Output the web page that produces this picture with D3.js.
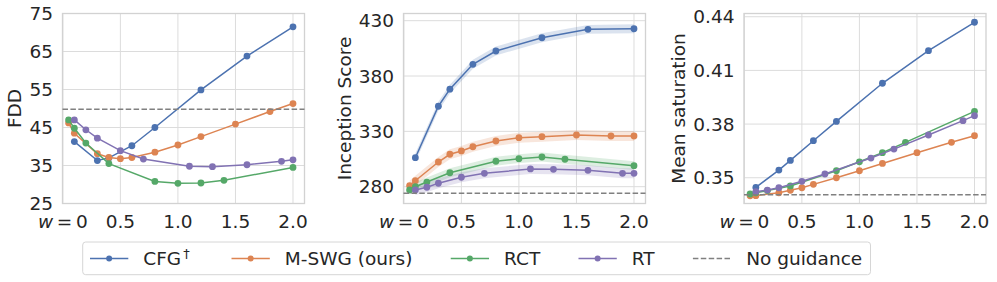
<!DOCTYPE html>
<html>
<head>
<meta charset="utf-8">
<script src="https://d3js.org/d3.v7.min.js"></script>
<style>
  body { margin: 0; background: #fff; }
  text { font-family: "DejaVu Sans", sans-serif; fill: #262626; }
</style>
</head>
<body>
<script>
// guidance strength per method
var wCFG  = [0.1, 0.3, 0.4, 0.6, 0.8, 1.2, 1.6, 2.0];
var wMSWG = [0.05, 0.1, 0.3, 0.4, 0.5, 0.6, 0.8, 1.0, 1.2, 1.5, 1.8, 2.0];
var wRCT  = [0.05, 0.1, 0.2, 0.4, 0.8, 1.0, 1.2, 1.4, 2.0];
var wRT   = [0.1, 0.2, 0.3, 0.5, 0.7, 1.1, 1.3, 1.6, 1.9, 2.0];

// FDD
var fddCFG  = [41.3, 36.3, 37.0, 40.2, 45.0, 54.9, 63.8, 71.5];
var fddMSWG = [46.2, 43.5, 38.1, 37.1, 36.8, 37.1, 38.5, 40.4, 42.6, 45.9, 49.2, 51.3];
var fddRCT  = [47.0, 44.8, 40.9, 35.5, 30.8, 30.3, 30.4, 31.1, 34.5];
var fddRT   = [47.0, 44.4, 42.2, 38.9, 36.7, 34.8, 34.7, 35.2, 36.1, 36.5];

// Inception Score
var isCFG  = [306.2, 352.7, 368.1, 390.6, 402.6, 414.6, 422.2, 422.7];
var isMSWG = [280.9, 285.4, 302.3, 309.3, 312.3, 316.1, 321.3, 324.3, 325.2, 326.7, 325.8, 325.8];
var isRCT  = [277.0, 280.0, 284.2, 292.6, 303.0, 305.3, 306.8, 304.8, 299.0];
var isRT   = [277.0, 279.5, 283.1, 288.5, 292.1, 296.0, 295.7, 294.8, 292.1, 292.1];
var isBand = [4, 4.5, 4, 4.5];   // half width of the shaded interval

// Mean saturation
var satCFG  = [0.3446, 0.3543, 0.3597, 0.3707, 0.3815, 0.4028, 0.4210, 0.4369];
var satMSWG = [0.3399, 0.3400, 0.3416, 0.3430, 0.3444, 0.3463, 0.3500, 0.3539, 0.3580, 0.3640, 0.3698, 0.3735];
var satRCT  = [0.3409, 0.3416, 0.3428, 0.3454, 0.3539, 0.3589, 0.3640, 0.3698, 0.3871];
var satRT   = [0.3422, 0.3431, 0.3444, 0.3480, 0.3521, 0.3610, 0.3660, 0.3739, 0.3819, 0.3847];

var noGuidance = [49.8, 274, 0.3405];

var methods = ["CFG", "M-SWG (ours)", "RCT", "RT"];
var colors = ["#4c72b0", "#dd8452", "#55a868", "#8172b3"];
var xTicks = [0, 0.5, 1.0, 1.5, 2.0];

var W = 997, H = 282;
var fs = 18.5;
var yTop = 13.5, yBot = 203.5, pw = 242;

var panels = [
  { left: 62.5, label: "FDD", domain: [25, 75], ticks: [25, 35, 45, 55, 65, 75], fmt: d3.format("d"),
    ys: [fddCFG, fddMSWG, fddRCT, fddRT], band: null },
  { left: 403.5, label: "Inception Score", domain: [264.8, 436.5], ticks: [280, 330, 380, 430], fmt: d3.format("d"),
    ys: [isCFG, isMSWG, isRCT, isRT], band: isBand },
  { left: 744, label: "Mean saturation", domain: [0.3356, 0.4418], ticks: [0.35, 0.38, 0.41, 0.44], fmt: d3.format(".2f"),
    ys: [satCFG, satMSWG, satRCT, satRT], band: null }
];
var ws = [wCFG, wMSWG, wRCT, wRT];

var svg = d3.select("body").append("svg")
  .attr("width", W).attr("height", H);

panels.forEach(function (p, pi) {
  var x = d3.scaleLinear().domain([-0.003, 2.1]).range([p.left, p.left + pw]);
  var y = d3.scaleLinear().domain(p.domain).range([yBot, yTop]);
  var g = svg.append("g");

  // grid
  g.selectAll("line.gx").data(xTicks).enter().append("line")
    .attr("x1", d => x(d)).attr("x2", d => x(d))
    .attr("y1", yTop).attr("y2", yBot)
    .attr("stroke", "#dcdcdc").attr("stroke-width", 1);
  g.selectAll("line.gy").data(p.ticks).enter().append("line")
    .attr("x1", p.left).attr("x2", p.left + pw)
    .attr("y1", d => y(d)).attr("y2", d => y(d))
    .attr("stroke", "#dcdcdc").attr("stroke-width", 1);

  // frame
  g.append("rect")
    .attr("x", p.left).attr("y", yTop).attr("width", pw).attr("height", yBot - yTop)
    .attr("fill", "none").attr("stroke", "#d2d2d2").attr("stroke-width", 1.3);

  // shaded intervals
  if (p.band) {
    p.ys.forEach(function (ys, si) {
      var pts = ws[si].map((w, i) => [w, ys[i]]);
      g.append("path")
        .attr("d", d3.area().x(d => x(d[0])).y0(d => y(d[1] - p.band[si])).y1(d => y(d[1] + p.band[si]))(pts))
        .attr("fill", colors[si]).attr("opacity", 0.2);
    });
  }

  // lines + markers
  p.ys.forEach(function (ys, si) {
    var pts = ws[si].map((w, i) => [w, ys[i]]);
    g.append("path")
      .attr("d", d3.line().x(d => x(d[0])).y(d => y(d[1]))(pts))
      .attr("fill", "none").attr("stroke", colors[si]).attr("stroke-width", 1.5);
    g.selectAll(null).data(pts).enter().append("circle")
      .attr("cx", d => x(d[0])).attr("cy", d => y(d[1])).attr("r", 3.4)
      .attr("fill", colors[si]);
  });

  // no guidance
  g.append("line")
    .attr("x1", p.left).attr("x2", p.left + pw)
    .attr("y1", y(noGuidance[pi])).attr("y2", y(noGuidance[pi]))
    .attr("stroke", "#808080").attr("stroke-width", 1.5).attr("stroke-dasharray", "5.5,2.4");

  // y tick labels
  var maxW = 0;
  g.selectAll("text.yt").data(p.ticks).enter().append("text")
    .attr("x", p.left - 9.5).attr("y", d => y(d)).attr("dy", "0.36em")
    .attr("text-anchor", "end").attr("font-size", fs)
    .text(d => p.fmt(d))
    .each(function () { maxW = Math.max(maxW, this.getComputedTextLength()); });

  // x tick labels
  xTicks.forEach(function (t) {
    var tx = g.append("text")
      .attr("x", x(t)).attr("y", 227.5).attr("text-anchor", "middle").attr("font-size", fs);
    if (t === 0) {
      tx.append("tspan").attr("font-style", "italic").text("w");
      tx.append("tspan").text("\u2009=\u20090");
    } else {
      tx.text(d3.format(".1f")(t));
    }
  });

  // y label
  var lx = p.left - 9.5 - maxW - 14.5, ly = (yTop + yBot) / 2;
  g.append("text")
    .attr("transform", "translate(" + lx + "," + ly + ") rotate(-90)")
    .attr("text-anchor", "middle").attr("dominant-baseline", "central")
    .attr("font-size", fs).text(p.label);
});

// legend
var leg = svg.append("g");
var lgLeft = 82.7, lgTop = 242, lgBot = 274.7, lgMid = 258.5;
var handle = 38.3, hpad = 15, colsp = 38.3;
var box = leg.append("rect")
  .attr("x", lgLeft).attr("y", lgTop).attr("height", lgBot - lgTop)
  .attr("rx", 3).attr("fill", "#fff").attr("stroke", "#d6d6d6").attr("stroke-width", 1);

var cx = lgLeft + 7.3;
var entries = methods.concat(["No guidance"]);
entries.forEach(function (name, i) {
  var hl = leg.append("line")
    .attr("x1", cx).attr("x2", cx + handle).attr("y1", lgMid).attr("y2", lgMid)
    .attr("stroke-width", 1.5);
  if (i < 4) {
    hl.attr("stroke", colors[i]);
    leg.append("circle").attr("cx", cx + handle / 2).attr("cy", lgMid).attr("r", 3).attr("fill", colors[i]);
  } else {
    hl.attr("stroke", "#808080").attr("stroke-dasharray", "5.5,2.4");
  }
  var t = leg.append("text").attr("x", cx + handle + hpad).attr("y", lgMid).attr("dy", "0.36em")
    .attr("font-size", fs);
  t.append("tspan").text(name);
  if (i === 0) {
    t.append("tspan").attr("font-size", 13).attr("dy", "-0.55em").attr("dx", "2").text("\u2020");
  }
  cx = cx + handle + hpad + t.node().getComputedTextLength() + (i === 0 ? 5.5 : 0) + colsp;
});
box.attr("width", cx - colsp + 8.3 - lgLeft);
</script>
</body>
</html>
